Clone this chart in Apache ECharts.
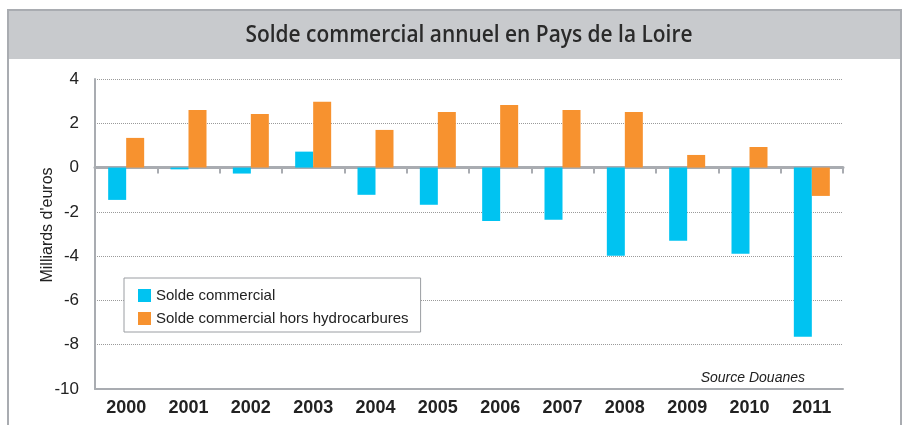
<!DOCTYPE html>
<html>
<head>
<meta charset="utf-8">
<title>Solde commercial annuel en Pays de la Loire</title>
<script src="https://cdn.jsdelivr.net/npm/echarts@6/dist/echarts.min.js"></script>
<style>
  html, body { margin: 0; padding: 0; background: #fff; }
  #chart { width: 906px; height: 425px; }
</style>
</head>
<body>
<div id="chart"></div>
<script>
// données (milliards d'euros)
const years = ['2000', '2001', '2002', '2003', '2004', '2005', '2006', '2007', '2008', '2009', '2010', '2011'];
const soldeCommercial = [-1.46, -0.08, -0.27, 0.72, -1.23, -1.68, -2.41, -2.36, -3.98, -3.31, -3.89, -7.64];
const soldeHorsHydro = [1.34, 2.6, 2.42, 2.97, 1.7, 2.51, 2.83, 2.6, 2.51, 0.57, 0.93, -1.28];
const yTicks = { min: -10, max: 4, step: 2 };

const font = "Arial, 'Liberation Sans', sans-serif";
const gris = '#a9acb1';

const titre = 'Solde commercial annuel en Pays de la Loire';
const titreFont = "600 24px 'Open Sans', 'Noto Sans', sans-serif";

// le titre d'origine est dans une police étroite : on resserre horizontalement
var ctx = document.createElement('canvas').getContext('2d');
ctx.font = titreFont;
var titreScale = 447 / ctx.measureText(titre).width;

var chart = echarts.init(document.getElementById('chart'));

var option = {
  animation: false,
  textStyle: { fontFamily: font },
  grid: { left: 95, right: 63, top: 79, bottom: 36, containLabel: false },
  graphic: [
    // cadre + bandeau du titre
    {
      type: 'rect', z: 0, silent: true,
      shape: { x: 8, y: 10, width: 893, height: 440 },
      style: { fill: '#fff', stroke: gris, lineWidth: 2 }
    },
    {
      type: 'rect', z: 1, silent: true,
      shape: { x: 9, y: 11, width: 891, height: 48 },
      style: { fill: '#c8cacd' }
    },
    {
      type: 'text', z: 2, x: 469, y: 35, scaleX: titreScale,
      style: {
        text: titre,
        x: 0, y: 0,
        align: 'center',
        verticalAlign: 'middle',
        font: titreFont,
        fill: '#2a2a2a'
      }
    },
    {
      type: 'text', z: 2, right: 101, top: 371,
      style: {
        text: 'Source Douanes',
        font: "italic 14px Arial, 'Liberation Sans', sans-serif",
        fill: '#222'
      }
    }
  ],
  legend: {
    orient: 'vertical',
    left: 124,
    top: 278,
    padding: [9, 12, 5, 14],
    itemGap: 6,
    itemWidth: 13,
    itemHeight: 13,
    icon: 'rect',
    borderColor: '#9a9da2',
    borderWidth: 1,
    backgroundColor: '#fff',
    textStyle: { fontSize: 15, color: '#222', lineHeight: 17 },
    data: ['Solde commercial', 'Solde commercial hors hydrocarbures']
  },
  xAxis: [
    {
      type: 'category',
      data: years,
      position: 'bottom',
      axisLine: { onZero: false, lineStyle: { color: gris, width: 2 } },
      axisTick: { show: false },
      axisLabel: { fontSize: 18, fontWeight: 'bold', color: '#222', margin: 10 },
      splitLine: { show: false }
    },
    {
      // ligne du zéro avec ses petites graduations
      type: 'category',
      data: years,
      position: 'bottom',
      axisLine: { onZero: true, onZeroAxisIndex: 0, lineStyle: { color: gris, width: 3 } },
      axisTick: { show: true, length: 6, lineStyle: { color: gris, width: 2 } },
      axisLabel: { show: false },
      splitLine: { show: false }
    }
  ],
  yAxis: {
    type: 'value',
    min: yTicks.min,
    max: yTicks.max,
    interval: yTicks.step,
    name: "Milliards d'euros",
    nameLocation: 'middle',
    nameGap: 39,
    nameMoveOverlap: false,
    nameTextStyle: { fontSize: 16, color: '#222', padding: [0, 0, 0, 18] },
    axisLine: { show: true, lineStyle: { color: gris, width: 2 } },
    axisTick: { show: false },
    axisLabel: { fontSize: 17, color: '#222', margin: 16 },
    splitLine: { show: true, lineStyle: { color: '#9a9a9a', type: 'dotted', width: 1 } }
  },
  series: [
    {
      name: 'Solde commercial',
      type: 'bar',
      data: soldeCommercial,
      barWidth: 18,
      barGap: '0%',
      itemStyle: { color: '#00c3f1' },
      z: 3
    },
    {
      name: 'Solde commercial hors hydrocarbures',
      type: 'bar',
      data: soldeHorsHydro,
      barWidth: 18,
      barGap: '0%',
      itemStyle: { color: '#f7922f' },
      z: 3
    }
  ]
};

chart.setOption(option);
</script>
</body>
</html>
